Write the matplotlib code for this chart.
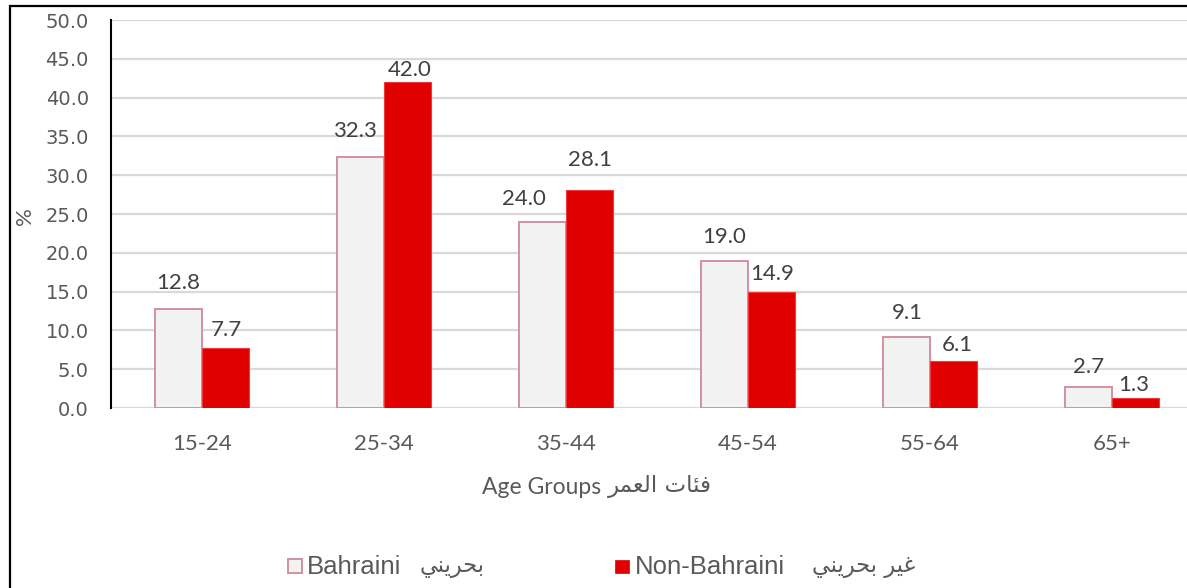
import matplotlib
matplotlib.use("Agg")
import matplotlib.pyplot as plt
from matplotlib.patches import Rectangle
import numpy as np

categories = ['15-24', '25-34', '35-44', '45-54', '55-64', '65+']
bahraini = [12.8, 32.3, 24.0, 19.0, 9.1, 2.7]
non_bahraini = [7.7, 42.0, 28.1, 14.9, 6.1, 1.3]
yticks = [0, 5, 10, 15, 20, 25, 30, 35, 40, 45, 50]

label_bahraini_en = 'Bahraini'
label_bahraini_ar = 'بحريني'
label_non_en = 'Non-Bahraini'
label_non_ar = 'غير بحريني'
xlabel_en = 'Age Groups'
xlabel_ar = 'فئات العمر'
ylabel = '%'

# data-label placement tweaks (pixels: dx, height of label centre above bar top)
lab_off_bahraini = [(0, 26), (-5, 26), (-18, 23), (0, 24), (1, 24), (0, 20)]
lab_off_non = [(1, 18), (2, 12), (0, 30), (0, 18), (4, 16), (-2, 13)]

# --- minimal Arabic shaping (contextual forms + visual order) ---
FORMS = {
    'ب': (0xFE8F, 0xFE90, 0xFE91, 0xFE92),
    'ح': (0xFEA1, 0xFEA2, 0xFEA3, 0xFEA4),
    'ر': (0xFEAD, 0xFEAE, None, None),
    'ي': (0xFEF1, 0xFEF2, 0xFEF3, 0xFEF4),
    'ن': (0xFEE5, 0xFEE6, 0xFEE7, 0xFEE8),
    'غ': (0xFECD, 0xFECE, 0xFECF, 0xFED0),
    'ف': (0xFED1, 0xFED2, 0xFED3, 0xFED4),
    'ئ': (0xFE89, 0xFE8A, 0xFE8B, 0xFE8C),
    'ا': (0xFE8D, 0xFE8E, None, None),
    'ت': (0xFE95, 0xFE96, 0xFE97, 0xFE98),
    'ل': (0xFEDD, 0xFEDE, 0xFEDF, 0xFEE0),
    'ع': (0xFEC9, 0xFECA, 0xFECB, 0xFECC),
    'م': (0xFEE1, 0xFEE2, 0xFEE3, 0xFEE4),
}
RIGHT_ONLY = set('اردذزوؤآأإة')


def shape(s):
    out = []
    n = len(s)
    for i, c in enumerate(s):
        if c not in FORMS:
            out.append(c)
            continue
        prev = s[i - 1] if i > 0 else ''
        nxt = s[i + 1] if i < n - 1 else ''
        jp = prev in FORMS and prev not in RIGHT_ONLY
        jn = c not in RIGHT_ONLY and nxt in FORMS
        iso, fin, ini, med = FORMS[c]
        if jp and jn:
            g = med
        elif jp:
            g = fin
        elif jn:
            g = ini
        else:
            g = iso
        out.append(chr(g))
    return ''.join(reversed(out))


W, H = 1187, 588
fig = plt.figure(figsize=(W / 100, H / 100), dpi=100)
PT = 0.72  # points per pixel at 100 dpi

# outer frame (cropped at right and bottom)
fig.patches.append(Rectangle((10 / W, -0.2), 1.5, 1.2 - 5.5 / H,
                             transform=fig.transFigure, fill=False,
                             edgecolor='black', linewidth=1.6, zorder=0))

ax = fig.add_axes([111 / W, (H - 408) / H, 1092 / W, 388 / H])
ax.set_facecolor('none')
x = np.arange(len(categories))
bw = 0.26
b1 = ax.bar(x - bw / 2, bahraini, bw, color='#f2f2f2', edgecolor='#d4919f',
            linewidth=1.4, zorder=3)
b2 = ax.bar(x + bw / 2, non_bahraini, bw, color='#e00000', edgecolor='#f03a3a',
            linewidth=0.8, zorder=3)

for bars, vals, offs in ((b1, bahraini, lab_off_bahraini),
                         (b2, non_bahraini, lab_off_non)):
    for r, v, (dx, dy) in zip(bars, vals, offs):
        ax.annotate(f'{v:.1f}', (r.get_x() + r.get_width() / 2, v),
                    xytext=(dx * PT, dy * PT), textcoords='offset points',
                    ha='center', va='center', fontsize=16, family='Lato',
                    color='#404040', zorder=4)

ax.set_xlim(-0.5, len(categories) - 0.5)
ax.set_ylim(0, 50)
ax.set_yticks(yticks)
ax.set_yticklabels([f'{v:.1f}' for v in yticks], fontsize=14,
                   family='DejaVu Sans', color='#595959')
ax.set_xticks(x)
ax.set_xticklabels(categories, fontsize=16, family='Lato', color='#595959')
ax.tick_params(axis='y', length=0, pad=16)
ax.tick_params(axis='x', length=0, pad=19)
ax.yaxis.grid(True, color='#d9d9d9', linewidth=1.6, zorder=0)
ax.set_axisbelow(True)
for s in ('top', 'right', 'bottom'):
    ax.spines[s].set_visible(False)
ax.spines['left'].set_color('black')
ax.spines['left'].set_linewidth(1.5)
ax.spines['left'].set_zorder(5)

# y label
fig.text(25 / W, 1 - 216 / H, ylabel, rotation=90, ha='center', va='center',
         fontsize=16, family='Lato', color='#595959')

# x axis title
fig.text(601 / W, 1 - 487 / H, xlabel_en, ha='right', va='center',
         fontsize=16.5, family='Lato', color='#595959')
fig.text(608 / W, 1 - 487 / H, shape(xlabel_ar), ha='left', va='center',
         fontsize=16.5, family='DejaVu Sans', color='#595959')

# legend
ly = 1 - 567 / H
fig.patches.append(Rectangle((288 / W, 1 - 573 / H), 14 / W, 14 / H,
                             transform=fig.transFigure, facecolor='#f2f2f2',
                             edgecolor='#d4919f', linewidth=1.4))
fig.text(307 / W, ly, label_bahraini_en, ha='left', va='center',
         fontsize=18.5, family='Liberation Sans', color='#595959')
fig.text(420 / W, ly, shape(label_bahraini_ar), ha='left', va='center',
         fontsize=16.3, family='DejaVu Sans', color='#595959')

fig.patches.append(Rectangle((615 / W, 1 - 573 / H), 14 / W, 13 / H,
                             transform=fig.transFigure, facecolor='#e00000',
                             edgecolor='#e00000', linewidth=0.5))
fig.text(635 / W, ly, label_non_en, ha='left', va='center',
         fontsize=18.5, family='Liberation Sans', color='#595959')
fig.text(812 / W, ly, shape(label_non_ar), ha='left', va='center',
         fontsize=16.3, family='DejaVu Sans', color='#595959')

fig.savefig('out.png', dpi=100)
